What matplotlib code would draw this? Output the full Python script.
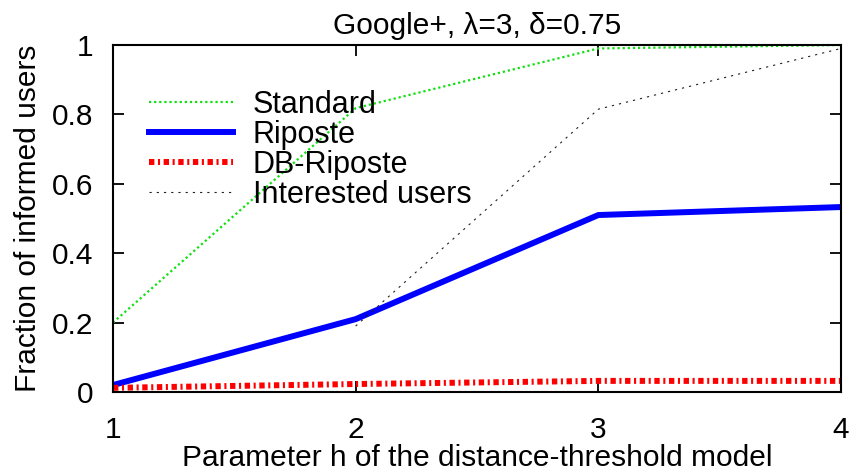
import matplotlib
matplotlib.use("Agg")
import matplotlib.pyplot as plt

plt.rcParams['font.family'] = ['Liberation Sans', 'DejaVu Sans']

h = [1, 2, 3, 4]
standard = [0.20, 0.818, 0.99, 1.0]
riposte = [0.02, 0.21, 0.51, 0.533]
db_riposte = [0.012, 0.023, 0.032, 0.032]
h_interested = [2, 3, 4]
interested = [0.19, 0.815, 0.99]

yticks = [0, 0.2, 0.4, 0.6, 0.8, 1]
ytick_labels = ["0", "0.2", "0.4", "0.6", "0.8", "1"]

FS = 21.5

fig = plt.figure(figsize=(8.55, 4.71), dpi=100)
ax = fig.add_axes([113/855, 1 - 392/471, (841-113)/855, (392-45)/471])

ax.plot(h, standard, color='#10e010', linestyle=(0, (1, 1.3)), linewidth=1.6, label='Standard')
ax.plot(h, riposte, color='#0000ff', linewidth=4.3, label='Riposte')
ax.plot(h, db_riposte, color='#ff0000', linewidth=4.3, linestyle=(0, (0.9, 0.6, 0.35, 0.6)), label='DB-Riposte')
ax.plot(h_interested, interested, color='#222222', linewidth=0.8, linestyle=(0, (2, 4.5)), label='Interested users')

ax.set_xlim(1, 4)
ax.set_ylim(0, 1)
ax.set_xticks(h)
ax.set_xticklabels([str(v) for v in h])
ax.set_yticks(yticks)
ax.set_yticklabels(ytick_labels)
ax.tick_params(axis='both', direction='in', length=8, width=1.3, labelsize=FS, top=True, right=True)
ax.tick_params(axis='x', pad=17.5)
ax.tick_params(axis='y', pad=14)
for s in ax.spines.values():
    s.set_linewidth(1.5)

ax.set_xlabel('Parameter h of the distance-threshold model', fontsize=FS, labelpad=0)
ax.set_ylabel('Fraction of informed users', fontsize=FS, labelpad=7)
ax.set_title('Google+, λ=3, δ=0.75', fontsize=FS, pad=8)

leg = ax.legend(loc='upper left', bbox_to_anchor=((149-113)/728, 0.87), frameon=False, fontsize=22,
                handlelength=2.75, handletextpad=0.65, labelspacing=0.0, borderaxespad=0, borderpad=0)

fig.savefig('out.png', dpi=100)
